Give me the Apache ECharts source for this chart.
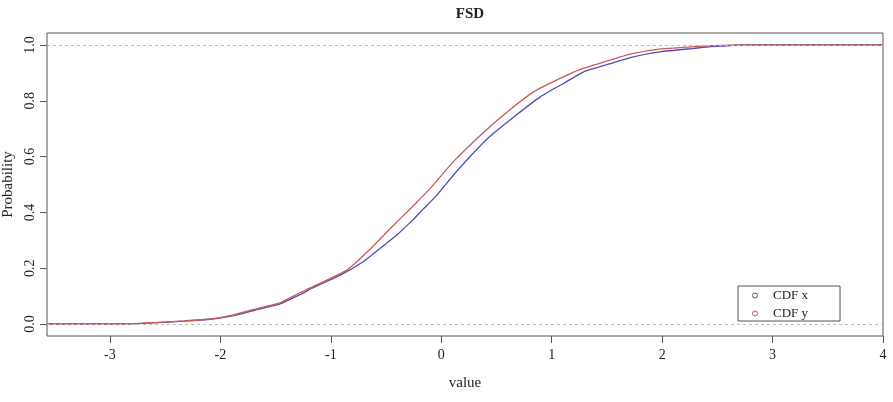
<!DOCTYPE html>
<html>
<head>
<meta charset="utf-8">
<script src="https://cdn.jsdelivr.net/npm/echarts@6/dist/echarts.min.js"></script>
<style>
  html, body { margin: 0; padding: 0; background: #fff; }
  #chart { width: 893px; height: 402px; }
</style>
</head>
<body>
<div id="chart"></div>
<script>
// ECDF of x (blue)
const cdfXValue = [-3.57, -2.85, -2.61, -2.33, -2.09, -1.88, -1.64, -1.46, -1.28, -1.17, -0.91, -0.70, -0.55, -0.40, -0.25, -0.16, -0.04, 0.15, 0.42, 0.66, 0.90, 1.11, 1.29, 1.54, 1.72, 1.99, 2.29, 2.44, 2.73, 4.0];
const cdfXProb  = [0, 0, 0.004, 0.010, 0.017, 0.030, 0.054, 0.072, 0.105, 0.128, 0.176, 0.225, 0.272, 0.320, 0.376, 0.413, 0.462, 0.552, 0.665, 0.743, 0.815, 0.863, 0.904, 0.934, 0.956, 0.976, 0.988, 0.994, 1.0, 1.0];

// ECDF of y (red)
const cdfYValue = [-3.57, -2.85, -2.61, -2.33, -2.09, -1.88, -1.64, -1.46, -1.28, -1.17, -0.85, -0.64, -0.46, -0.25, -0.10, 0.11, 0.39, 0.60, 0.84, 1.08, 1.26, 1.48, 1.72, 1.99, 2.29, 2.44, 2.82, 4.0];
const cdfYProb  = [0, 0, 0.005, 0.011, 0.018, 0.033, 0.058, 0.076, 0.112, 0.132, 0.194, 0.270, 0.343, 0.425, 0.486, 0.582, 0.689, 0.761, 0.833, 0.881, 0.913, 0.940, 0.968, 0.986, 0.994, 0.998, 1.0, 1.0];

const xTicks = [-3, -2, -1, 0, 1, 2, 3, 4];
const yTicks = [0, 0.2, 0.4, 0.6, 0.8, 1.0];
const refLines = [0, 1];

const serif = '"Liberation Serif", "DejaVu Serif", serif';
const blue = '#4d4dbb';
const red = '#c95a5a';

function pairs(xs, ys) {
    return xs.map((v, i) => [v, ys[i]]);
}

const chart = echarts.init(document.getElementById('chart'));

chart.setOption({
    animation: false,
    textStyle: { fontFamily: serif },
    title: {
        text: 'FSD',
        left: 465,
        textAlign: 'center',
        top: 2,
        textStyle: { fontFamily: serif, fontSize: 15, fontWeight: 'bold', color: '#222' }
    },
    grid: {
        left: 47, right: 10, top: 33, bottom: 66,
        outerBoundsMode: 'none',
        containLabel: false,
        show: true, borderColor: '#555', borderWidth: 1, backgroundColor: 'transparent'
    },
    legend: {
        left: 738,
        top: 286,
        orient: 'vertical',
        icon: 'circle',
        itemWidth: 26,
        itemHeight: 5,
        itemGap: 5,
        padding: [3, 32, 1, 14],
        borderColor: '#555',
        borderWidth: 1,
        backgroundColor: '#fff',
        textStyle: { fontFamily: serif, fontSize: 13, color: '#222' },
        data: [
            { name: 'CDF x', itemStyle: { color: '#fff', borderColor: '#55557a', borderWidth: 1 } },
            { name: 'CDF y', itemStyle: { color: '#fff', borderColor: '#c0506a', borderWidth: 1 } }
        ]
    },
    xAxis: {
        type: 'value',
        min: -3.57,
        max: 4,
        name: 'value',
        nameLocation: 'middle',
        nameGap: 40,
        nameTextStyle: { fontFamily: serif, fontSize: 15, color: '#222' },
        splitLine: { show: false },
        axisLine: { show: false, onZero: false },
        axisTick: { show: true, length: 7, lineStyle: { color: '#555' }, customValues: xTicks },
        axisLabel: {
            fontFamily: serif, fontSize: 14, color: '#222', margin: 12,
            customValues: xTicks,
            formatter: v => String(v)
        }
    },
    yAxis: {
        type: 'value',
        min: -0.043,
        max: 1.043,
        name: 'Probability',
        nameLocation: 'middle',
        nameGap: 30,
        nameTextStyle: { fontFamily: serif, fontSize: 15, color: '#222' },
        splitLine: { show: false },
        axisLine: { show: false, onZero: false },
        axisTick: { show: true, length: 7, lineStyle: { color: '#555' }, customValues: yTicks },
        axisLabel: {
            fontFamily: serif, fontSize: 14, color: '#222', margin: 10, rotate: 90,
            customValues: yTicks,
            formatter: v => v.toFixed(1)
        }
    },
    series: [
        {
            name: 'CDF x',
            type: 'line',
            data: pairs(cdfXValue, cdfXProb),
            showSymbol: false,
            smooth: 0.15,
            color: blue,
            lineStyle: { width: 1.3, color: blue }
        },
        {
            name: 'CDF y',
            type: 'line',
            data: pairs(cdfYValue, cdfYProb),
            showSymbol: false,
            smooth: 0.15,
            color: red,
            lineStyle: { width: 1.3, color: red },
            markLine: {
                silent: true,
                symbol: 'none',
                label: { show: false },
                lineStyle: { color: '#bbb', type: [3, 3], width: 1 },
                data: refLines.map(v => ({ yAxis: v }))
            }
        }
    ]
});
</script>
</body>
</html>
